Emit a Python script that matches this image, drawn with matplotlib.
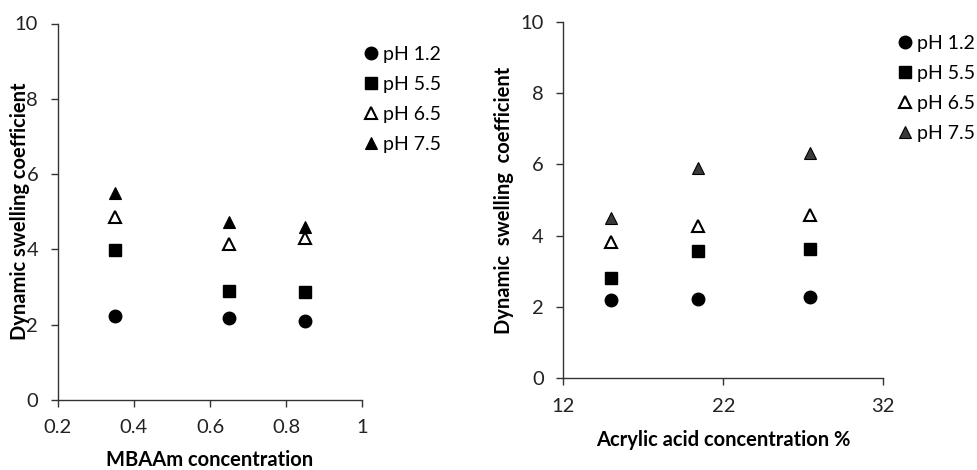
import matplotlib.pyplot as plt

plt.rcParams['font.family'] = ['Lato', 'DejaVu Sans']

# left panel: MBAAm concentration
mbaam = [0.35, 0.65, 0.85]
mbaam_ph12 = [2.23, 2.17, 2.11]
mbaam_ph55 = [3.98, 2.90, 2.88]
mbaam_ph65 = [4.87, 4.14, 4.31]
mbaam_ph75 = [5.51, 4.73, 4.60]

# right panel: acrylic acid concentration
acrylic = [15, 20.4, 27.4]
acrylic_ph12 = [2.20, 2.22, 2.27]
acrylic_ph55 = [2.82, 3.57, 3.64]
acrylic_ph65 = [3.83, 4.27, 4.58]
acrylic_ph75 = [4.49, 5.91, 6.31]

labels = ['pH 1.2', 'pH 5.5', 'pH 6.5', 'pH 7.5']


def style_axes(ax):
    for side in ['top', 'right']:
        ax.spines[side].set_visible(False)
    for side in ['left', 'bottom']:
        ax.spines[side].set_color('#333333')
        ax.spines[side].set_linewidth(1.0)
    ax.tick_params(direction='out', length=5, width=1.0, color='#333333',
                   labelsize=14.5, labelcolor='#222222', pad=9)


def draw(ax, x, ys, tri_color):
    ms = 9
    ax.plot(x, ys[0], 'o', color='black', ms=ms, label=labels[0])
    ax.plot(x, ys[1], 's', color='black', ms=ms, label=labels[1])
    ax.plot(x, ys[2], '^', mfc='white', mec='black', mew=1.5, ms=ms, label=labels[2])
    ax.plot(x, ys[3], '^', mfc=tri_color, mec='black', mew=0.8, ms=ms, label=labels[3])


def place_labels(ax, xl, yl):
    ax.xaxis.set_label_coords(0.5, xl)
    ax.xaxis.label.set_verticalalignment('center')
    ax.yaxis.set_label_coords(yl, 0.5)
    ax.yaxis.label.set_verticalalignment('center')


def add_legend(ax, anchor):
    ax.legend(loc='upper left', bbox_to_anchor=anchor, frameon=False,
              fontsize=14, handletextpad=0.25, handlelength=0.75,
              labelspacing=0.66, borderaxespad=0, borderpad=0, markerscale=1.0)


fig = plt.figure(figsize=(9.77, 4.70), dpi=100)

ax1 = fig.add_axes([0.059, 0.149, 0.312, 0.801])
draw(ax1, mbaam, [mbaam_ph12, mbaam_ph55, mbaam_ph65, mbaam_ph75], 'black')
ax1.set_xlim(0.2, 1.0)
ax1.set_ylim(0, 10)
ax1.set_xticks([0.2, 0.4, 0.6, 0.8, 1.0])
ax1.set_xticklabels(['0.2', '0.4', '0.6', '0.8', '1'])
ax1.set_yticks([0, 2, 4, 6, 8, 10])
style_axes(ax1)
ax1.set_xlabel('MBAAm concentration', fontsize=14.5, fontweight='bold')
ax1.set_ylabel('Dynamic swelling coefficient', fontsize=14.5, fontweight='bold')
place_labels(ax1, -0.159, -0.125)
add_legend(ax1, (1.004, 0.94))

ax2 = fig.add_axes([0.5766, 0.195, 0.3275, 0.759])
draw(ax2, acrylic, [acrylic_ph12, acrylic_ph55, acrylic_ph65, acrylic_ph75], '#3a3a3a')
ax2.set_xlim(12, 32)
ax2.set_ylim(0, 10)
ax2.set_xticks([12, 22, 32])
ax2.set_yticks([0, 2, 4, 6, 8, 10])
style_axes(ax2)
ax2.set_xlabel('Acrylic acid concentration %', fontsize=14.5, fontweight='bold')
ax2.set_ylabel('Dynamic  swelling  coefficient', fontsize=14.5, fontweight='bold')
place_labels(ax2, -0.173, -0.184)
add_legend(ax2, (1.046, 0.962))

fig.savefig('out.png', dpi=100)
